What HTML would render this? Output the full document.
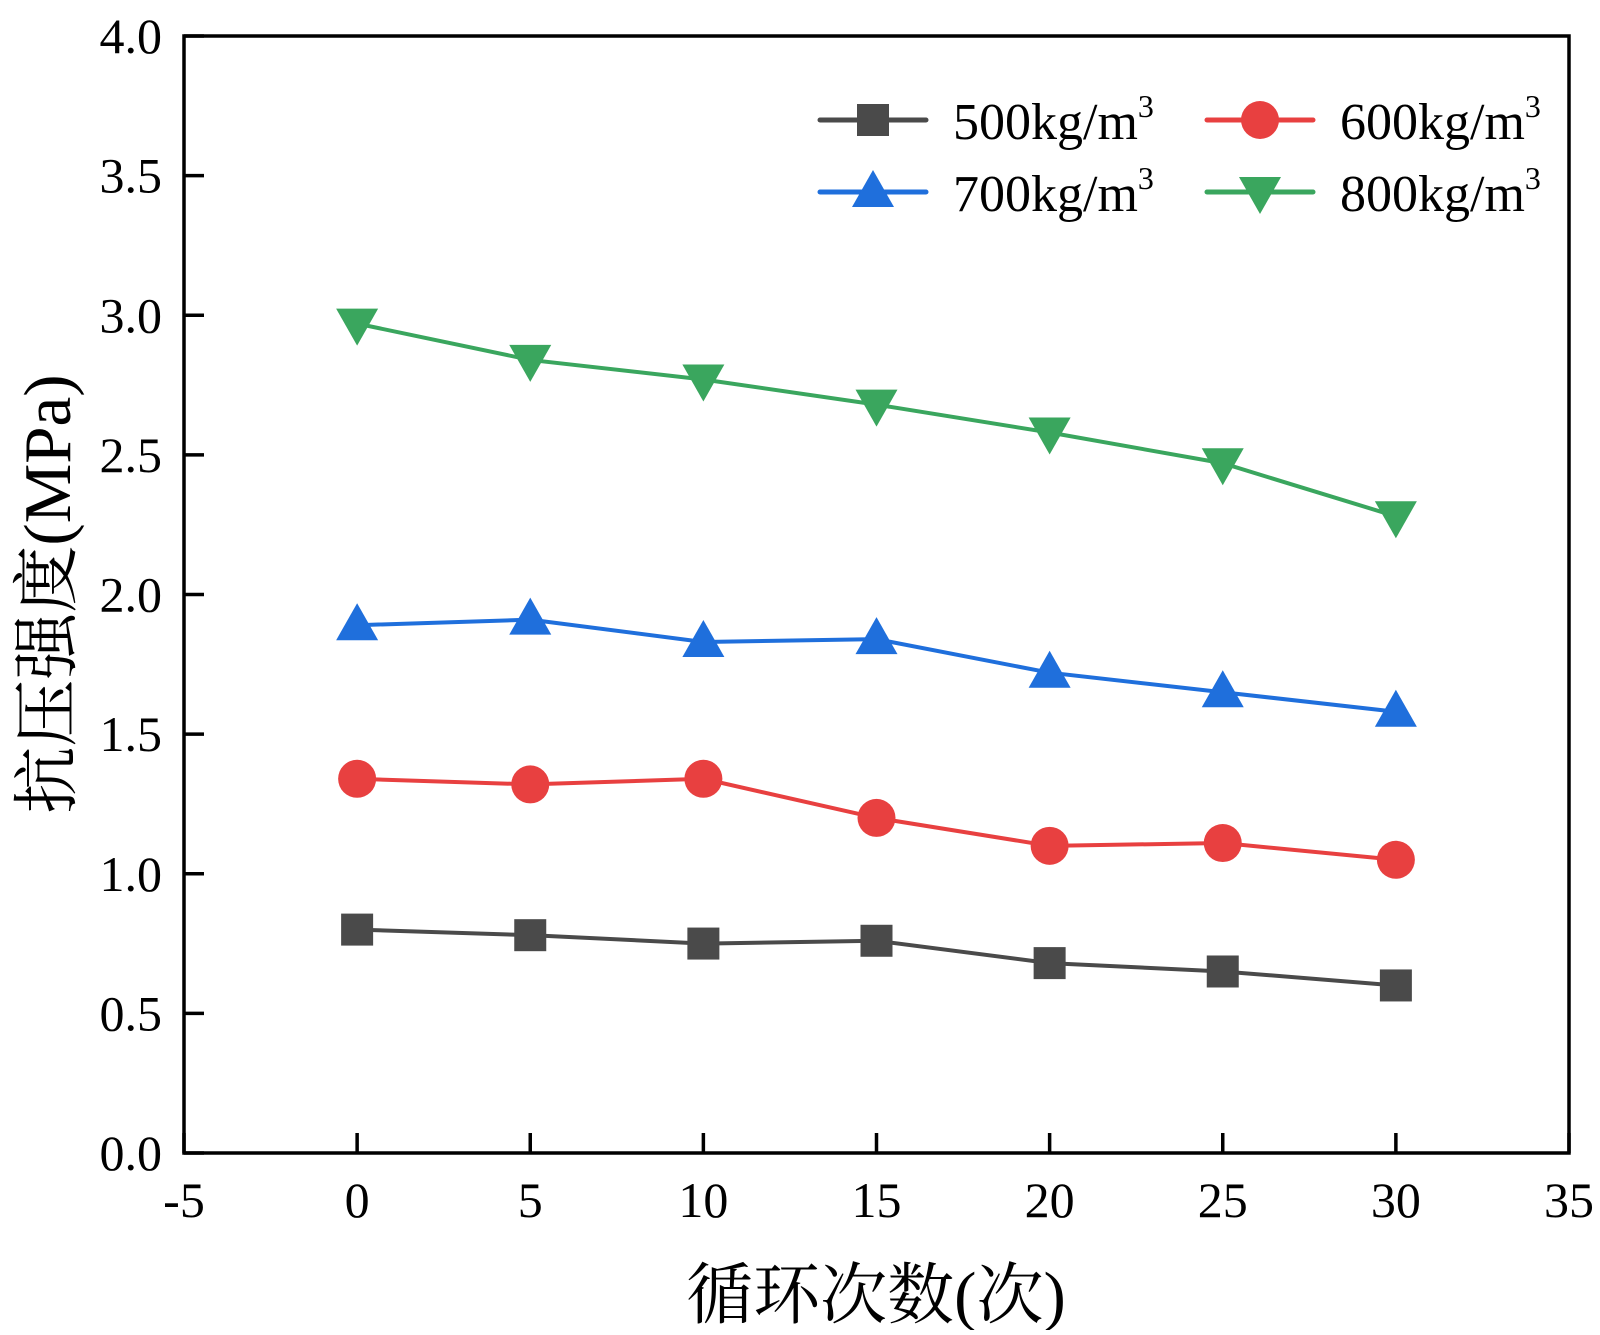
<!DOCTYPE html>
<html><head><meta charset="utf-8"><style>
body{margin:0;background:#fff}
svg text{font-family:"Liberation Serif","Noto Serif CJK SC",serif;fill:#000}
</style></head><body>
<svg id="chart" width="1600" height="1330" viewBox="0 0 1600 1330" xmlns="http://www.w3.org/2000/svg"></svg>
<script>
const xCats=[0,5,10,15,20,25,30];
const s500=[0.80,0.78,0.75,0.76,0.68,0.65,0.60];
const s600=[1.34,1.32,1.34,1.20,1.10,1.11,1.05];
const s700=[1.89,1.91,1.83,1.84,1.72,1.65,1.58];
const s800=[2.97,2.84,2.77,2.68,2.58,2.47,2.28];
const xTicks=[-5,0,5,10,15,20,25,30,35];
const yTicks=[0.0,0.5,1.0,1.5,2.0,2.5,3.0,3.5,4.0];
const L=184,R=1569,T=36,B=1153;
const X=v=>L+(v+5)/40*(R-L);
const Y=v=>B-v/4*(B-T);
const svg=document.getElementById('chart');
const NS='http://www.w3.org/2000/svg';
function mk(tag,attrs,parent){const e=document.createElementNS(NS,tag);for(const k in attrs)e.setAttribute(k,attrs[k]);(parent||svg).appendChild(e);return e;}
let frame=mk('rect',{x:L,y:T,width:R-L,height:B-T,fill:'none',stroke:'#000','stroke-width':3.5});


xTicks.forEach(t=>{
  const tk=mk('line',{x1:X(t),x2:X(t),y1:B,y2:B-20,stroke:'#000','stroke-width':3.5});
  
  
  const tx=mk('text',{x:X(t),y:B+64,'text-anchor':'middle','font-size':50});
  tx.textContent=t;
  
  
});
yTicks.forEach(t=>{
  const tk=mk('line',{x1:L,x2:L+20,y1:Y(t),y2:Y(t),stroke:'#000','stroke-width':3.5});
  
  
  const tx=mk('text',{x:L-22,y:Y(t)+17,'text-anchor':'end','font-size':50});
  tx.textContent=t.toFixed(1);
  
  
});
let xt=mk('text',{x:876,y:1318,'text-anchor':'middle','font-size':67});
xt.textContent='循环次数(次)';


let yt=mk('text',{x:0,y:0,'text-anchor':'middle','font-size':67,transform:'translate(70,594) rotate(-90)'});
yt.textContent='抗压强度(MPa)';


function marker(type,x,y,color,g){
  if(type==='sq')return mk('rect',{x:x-16,y:y-16,width:32,height:32,fill:color},g);
  if(type==='ci')return mk('circle',{cx:x,cy:y,r:19,fill:color},g);
  if(type==='up')return mk('polygon',{points:`${x},${y-22} ${x-21},${y+15} ${x+21},${y+15}`,fill:color},g);
  return mk('polygon',{points:`${x},${y+22} ${x-21},${y-15} ${x+21},${y-15}`,fill:color},g);
}
const series=[
  {name:'500',data:s500,color:'#4a4a4a',m:'sq'},
  {name:'600',data:s600,color:'#e84040',m:'ci'},
  {name:'700',data:s700,color:'#1f6fdc',m:'up'},
  {name:'800',data:s800,color:'#3aa65e',m:'dn'}];
series.forEach(s=>{
  const g=mk('g',{});
  
  
  const pl=mk('polyline',{points:xCats.map((c,i)=>X(c)+','+Y(s.data[i])).join(' '),fill:'none',stroke:s.color,'stroke-width':4},g);
  
  
  xCats.forEach((c,i)=>{
    const m=marker(s.m,X(c),Y(s.data[i]),s.color,g);
    
    
  });
});
const leg=[{s:0,x:820,y:120},{s:1,x:1207,y:120},{s:2,x:820,y:192},{s:3,x:1207,y:192}];
leg.forEach(l=>{
  const s=series[l.s];
  const g=mk('g',{});
  
  
  mk('line',{x1:l.x,x2:l.x+106,y1:l.y,y2:l.y,stroke:s.color,'stroke-width':5,'stroke-linecap':'round'},g);
  marker(s.m,l.x+53,l.y,s.color,g);
  const t=mk('text',{x:l.x+133,y:l.y+19,'font-size':52},g);
  t.innerHTML=s.name+'kg/m<tspan dy="-22" font-size="32">3</tspan>';
});
</script>
</body></html>
